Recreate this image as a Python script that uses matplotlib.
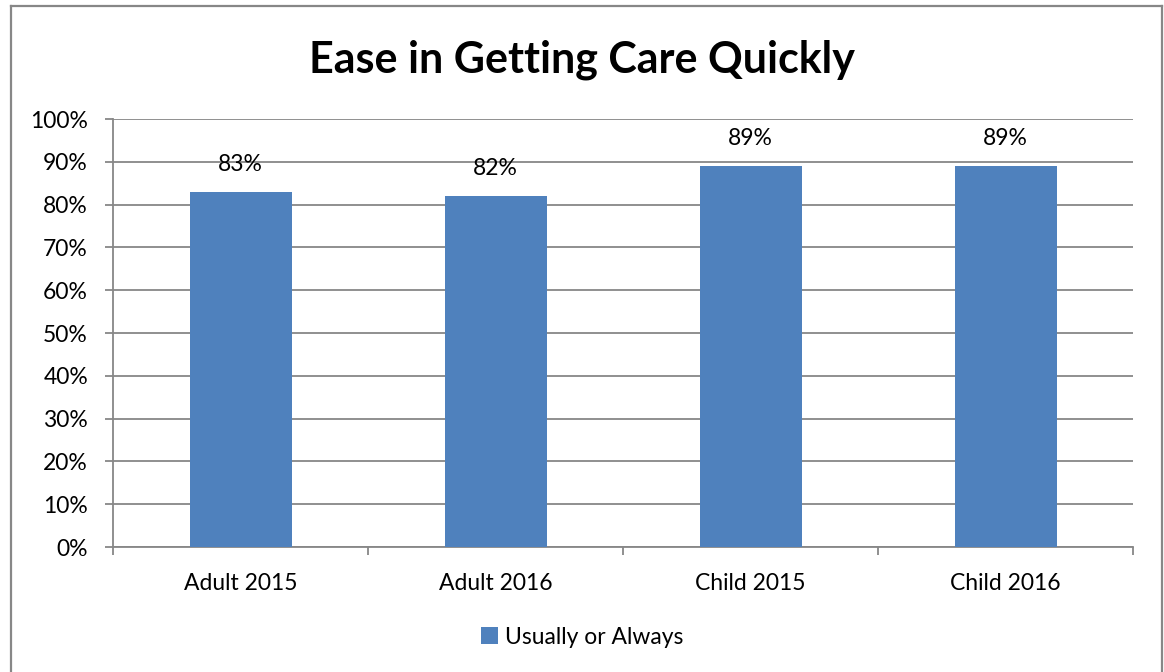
import matplotlib.pyplot as plt
from matplotlib.lines import Line2D
from matplotlib.patches import Patch
from matplotlib.ticker import FixedLocator, NullFormatter, PercentFormatter
import numpy as np

categories = ["Adult 2015", "Adult 2016", "Child 2015", "Child 2016"]
usually_or_always = [83, 82, 89, 89]
series_name = "Usually or Always"
title = "Ease in Getting Care Quickly"

bar_color = "#4F81BD"
grey = "#878787"

plt.rcParams['font.family'] = ['Lato', 'DejaVu Sans']

fig = plt.figure(figsize=(11.64, 6.72), dpi=100)
ax = fig.add_axes([113 / 1164, 1 - 547 / 672, 1020 / 1164, 428 / 672])

x = np.arange(len(categories))
bars = ax.bar(x, usually_or_always, width=0.4, color=bar_color, zorder=3)
for b, v in zip(bars, usually_or_always):
    ax.annotate(f"{v}%", (b.get_x() + b.get_width() / 2, v), xytext=(0, 12),
                textcoords="offset points", ha="center", va="bottom", fontsize=16.5)

ax.set_xlim(-0.5, len(categories) - 0.5)
ax.set_ylim(0, 100)
ax.set_yticks(np.arange(0, 101, 10))
ax.yaxis.set_major_formatter(PercentFormatter(decimals=0))
ax.yaxis.grid(True, color=grey, linewidth=1.3, zorder=0)

# category labels centered, tick marks at boundaries
ax.set_xticks(x)
ax.set_xticklabels(categories)
ax.xaxis.set_minor_locator(FixedLocator(np.arange(-0.5, len(categories), 1)))
ax.xaxis.set_minor_formatter(NullFormatter())
ax.tick_params(axis="x", which="major", length=0, pad=19, labelsize=16.5)
ax.tick_params(axis="x", which="minor", length=6, width=1.3, color=grey)
ax.tick_params(axis="y", length=6, width=1.3, color=grey, pad=12, labelsize=16.5)

for s in ["top", "right"]:
    ax.spines[s].set_visible(False)
for s in ["left", "bottom"]:
    ax.spines[s].set_color(grey)
    ax.spines[s].set_linewidth(1.3)

fig.text(0.5, 1 - 60 / 672, title, ha="center", va="center", fontsize=31, fontweight="bold")

handle = Patch(facecolor=bar_color, edgecolor="none")
fig.legend([handle], [series_name], loc="center", bbox_to_anchor=(0.5, 1 - 637 / 672),
           frameon=False, fontsize=16.5, handlelength=0.75, handleheight=0.75, handletextpad=0.3)

# outer chart border (left, top, right)
for xs, ys in [([11, 11], [-10, 6]), ([11, 1162], [6, 6]), ([1162, 1162], [6, -10])]:
    fig.add_artist(Line2D([v / 1164 for v in xs],
                          [1 - (v if v >= 0 else 700) / 672 for v in ys],
                          color=grey, linewidth=1.6))

fig.savefig("out.png", dpi=100)
